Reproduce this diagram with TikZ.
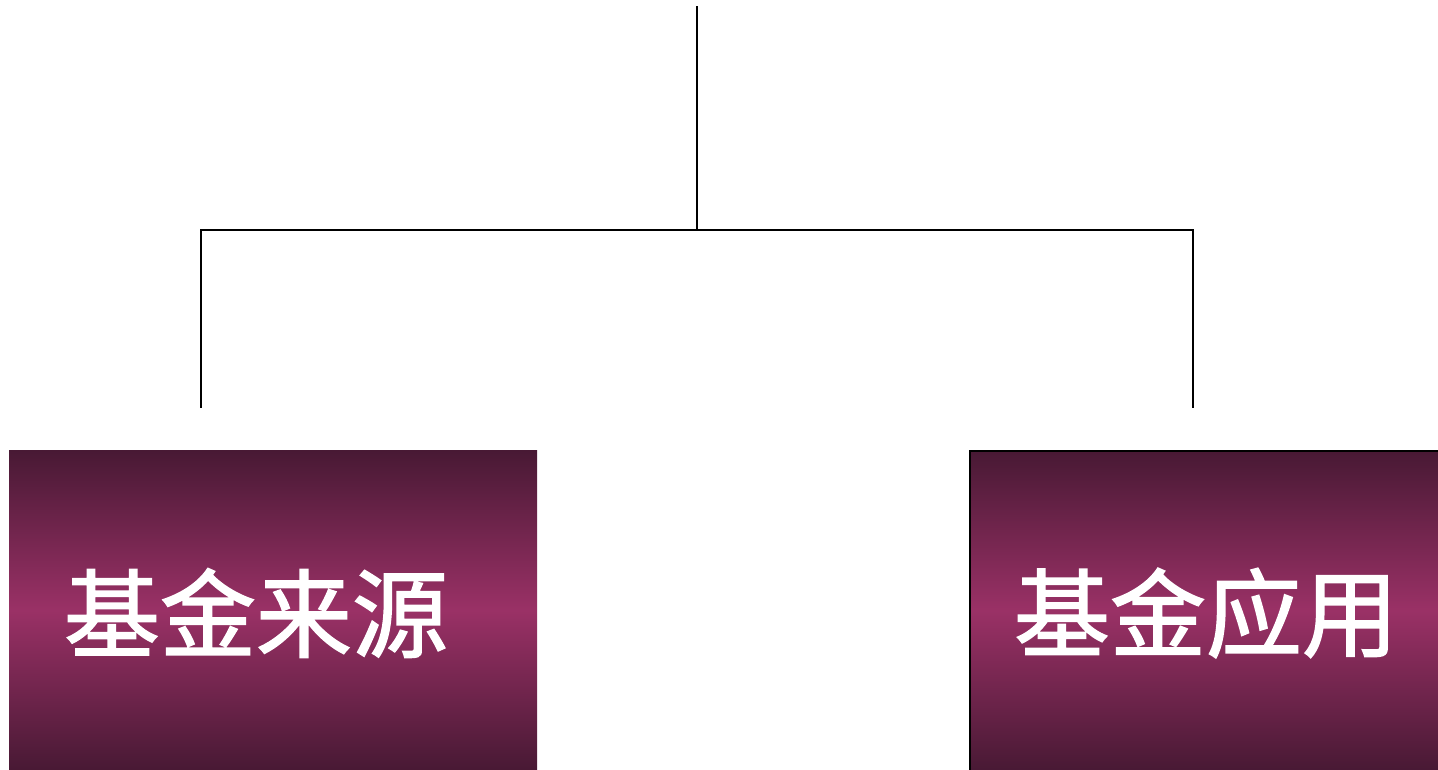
\documentclass[tikz,border=0pt]{standalone}
\usepackage{fontspec}
\newfontfamily\cjk{Noto Sans CJK SC}[FakeBold=1.6]
\definecolor{plumdark}{RGB}{72,25,52}
\definecolor{plummid}{RGB}{154,49,102}
\begin{document}
\begin{tikzpicture}[x=1pt,y=-1pt,
  link/.style={line width=2pt,line cap=rect},
  fundbox/.style={rectangle,inner sep=0pt,anchor=north west,
    top color=plumdark,bottom color=plumdark,middle color=plummid},
  fundtext/.style={text=white,inner sep=0pt,font=\cjk\fontsize{96}{100}\selectfont}]
\useasboundingbox (0,0) rectangle (1438,770);
\node[fundbox,minimum width=528pt,minimum height=320pt] (src) at (9,450) {};
\node[fundbox,draw=black,line width=1.5pt,minimum width=470pt,minimum height=320pt] (use) at (969,450) {};
\node[fundtext] (srct) at (256,613) {基金来源};
\node[fundtext] (uset) at (1206,613) {基金应用};
\coordinate (top) at (697,7);
\coordinate (mid) at (697,230);
\coordinate (jl) at (201,230);
\coordinate (jr) at (1193,230);
\coordinate (el) at (201,407);
\coordinate (er) at (1193,407);
\draw[link] (top) -- (mid);
\draw[link] (jl) -- (jr);
\draw[link] (jl) -- (el);
\draw[link] (jr) -- (er);
\end{tikzpicture}
\end{document}
